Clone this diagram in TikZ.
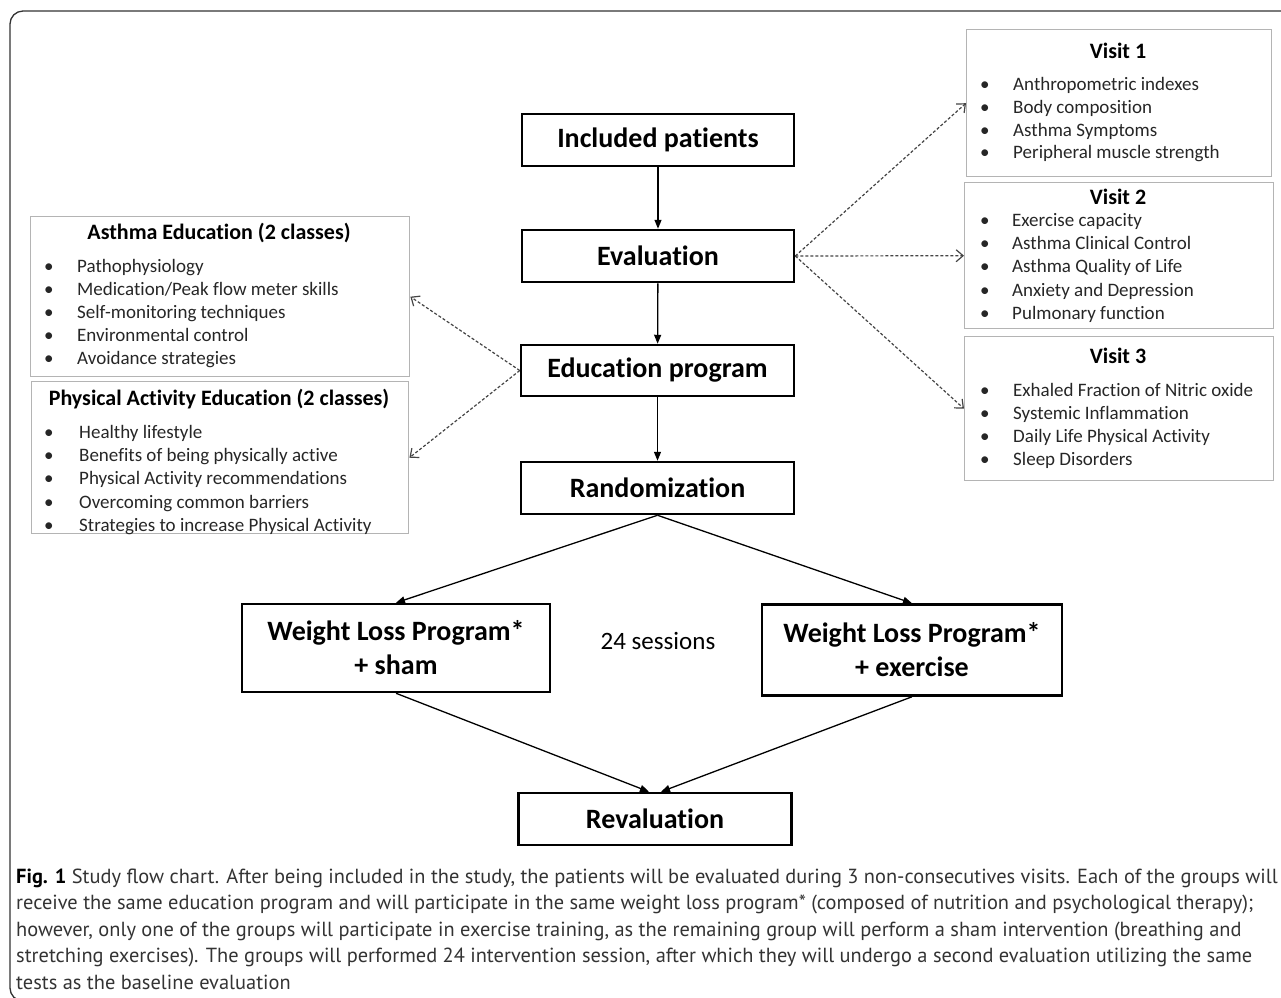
\documentclass[tikz,border=0pt]{standalone}
\usepackage{fontspec}
\setmainfont[Ligatures=NoCommon]{Carlito}
\newfontfamily\capfont{PT Sans}
\usepackage{xcolor}
\usetikzlibrary{arrows.meta, positioning}

\definecolor{boxgray}{HTML}{B4B4B4}
\definecolor{dashgray}{HTML}{444444}
\definecolor{captxt}{HTML}{333333}

\tikzset{
  mainbox/.style={draw, line width=2.5pt, inner sep=0pt, align=center,
    font=\bfseries\fontsize{28}{34}\selectfont},
  listbox/.style={draw=boxgray, line width=1.4pt, inner sep=0pt, anchor=north west},
  boxhead/.style={inner sep=0pt, font=\bfseries\fontsize{22}{26}\selectfont},
  boxitem/.style={anchor=west, inner sep=0pt, text height=13pt, text depth=4pt,
    text=black!85, font=\fontsize{19}{23}\selectfont},
  flow/.style={line width=1.3pt, -{Triangle[length=9pt,width=7pt]}},
  visit/.style={line width=1.2pt, dashgray, dash pattern=on 3pt off 2pt,
    -{Straight Barb[length=7pt,width=12pt]}},
}

\begin{document}
\begin{tikzpicture}[x=1pt,y=-1pt]
    \useasboundingbox (0,0) rectangle (1281,997);
    %frame of the figure
    \draw[line width=1.3pt, black!80, rounded corners=13pt](1295,11)--(10,11)--(10,1001)--(1295,1001);

    %main flow
    \node[mainbox, minimum width=272pt, minimum height=52pt](incl) at (658,140) {Included patients};
    \node[mainbox, minimum width=272pt, minimum height=52pt](eval) at (658,256) {Evaluation};
    \node[mainbox, minimum width=273pt, minimum height=51pt](edu) at (657.5,370.5) {Education program};
    \node[mainbox, minimum width=273pt, minimum height=52pt](rand) at (657.5,488) {Randomization};
    \node[mainbox, minimum width=308pt, minimum height=88pt](sham) at (396,648) {Weight Loss Program*\\+ sham};
    \node[mainbox, minimum width=300pt, minimum height=91pt](exer) at (912,650) {Weight Loss Program*\\+ exercise};
    \node[mainbox, minimum width=273pt, minimum height=52pt](reval) at (655,819) {Revaluation};
    \node[inner sep=0pt, font=\fontsize{25}{30}\selectfont](sess) at (658,641) {24 sessions};

    \draw[flow](incl)--(eval);
    \draw[flow](eval)--(edu);
    \draw[flow](edu)--(rand);
    \draw[flow](rand.south)--(sham.north);
    \draw[flow](rand.south)--(exer.north);
    \draw[flow](sham.south)--([xshift=-6pt]reval.north);
    \draw[flow](exer.south)--([xshift=6pt]reval.north);

    %visits
    \node[listbox, minimum width=305pt, minimum height=147pt](v1) at (966,29) {};
    \node[listbox, minimum width=309pt, minimum height=146pt](v2) at (964,182) {};
    \node[listbox, minimum width=309pt, minimum height=144pt](v3) at (964,336) {};
    \node[boxhead](v1h) at (1118,51) {Visit 1};
    \node[boxhead](v2h) at (1118,197) {Visit 2};
    \node[boxhead](v3h) at (1118,356) {Visit 3};
    \foreach \t [count=\i] in {Anthropometric indexes, Body composition, Asthma Symptoms, Peripheral muscle strength}{
      \node[boxitem](v1b\i) at (980,{86+22.8*(\i-1)}) {\textbullet};
      \node[boxitem](v1t\i) at (1013,{86+22.8*(\i-1)}) {\t};
    }
    \foreach \t [count=\i] in {Exercise capacity, Asthma Clinical Control, Asthma Quality of Life, Anxiety and Depression, Pulmonary function}{
      \node[boxitem](v2b\i) at (980,{222+23.2*(\i-1)}) {\textbullet};
      \node[boxitem](v2t\i) at (1012,{222+23.2*(\i-1)}) {\t};
    }
    \foreach \t [count=\i] in {Exhaled Fraction of Nitric oxide, Systemic Inflammation, Daily Life Physical Activity, Sleep Disorders}{
      \node[boxitem](v3b\i) at (980,{392+23*(\i-1)}) {\textbullet};
      \node[boxitem](v3t\i) at (1013,{392+23*(\i-1)}) {\t};
    }
    \draw[visit](eval.east)--(v1.west);
    \draw[visit](eval.east)--(v2.west);
    \draw[visit](eval.east)--(v3.west);

    %education classes
    \node[listbox, minimum width=379pt, minimum height=160pt](ae) at (30,216) {};
    \node[listbox, minimum width=377pt, minimum height=152pt](pa) at (31,381) {};
    \node[boxhead](aeh) at (219,233) {Asthma Education (2 classes)};
    \node[boxhead](pah) at (219,399) {Physical Activity Education (2 classes)};
    \foreach \t [count=\i] in {Pathophysiology, Medication/Peak flow meter skills, Self-monitoring techniques, Environmental control, Avoidance strategies}{
      \node[boxitem](aeb\i) at (44,{268+23*(\i-1)}) {\textbullet};
      \node[boxitem](aet\i) at (77,{268+23*(\i-1)}) {\t};
    }
    \foreach \t [count=\i] in {Healthy lifestyle, Benefits of being physically active, Physical Activity recommendations, Overcoming common barriers, Strategies to increase Physical Activity}{
      \node[boxitem](pab\i) at (44,{434+23.2*(\i-1)}) {\textbullet};
      \node[boxitem](pat\i) at (79,{434+23.2*(\i-1)}) {\t};
    }
    \draw[visit](edu.west)--(ae.east);
    \draw[visit](edu.west)--(pa.east);

    %caption (base anchor sits on its last line)
    \node[anchor=base west, inner sep=0pt, align=left, text=captxt,
      font=\capfont\fontsize{20.4}{26.5}\selectfont](cap) at (16,989)
      {\textbf{\color{black}Fig. 1} Study flow chart. After being included in the study, the patients will be evaluated during 3 non-consecutives visits. Each of the groups will\\
       receive the same education program and will participate in the same weight loss program* (composed of nutrition and psychological therapy);\\
       however, only one of the groups will participate in exercise training, as the remaining group will perform a sham intervention (breathing and\\
       stretching exercises). The groups will performed 24 intervention session, after which they will undergo a second evaluation utilizing the same\\
       tests as the baseline evaluation};
\end{tikzpicture}
\end{document}
